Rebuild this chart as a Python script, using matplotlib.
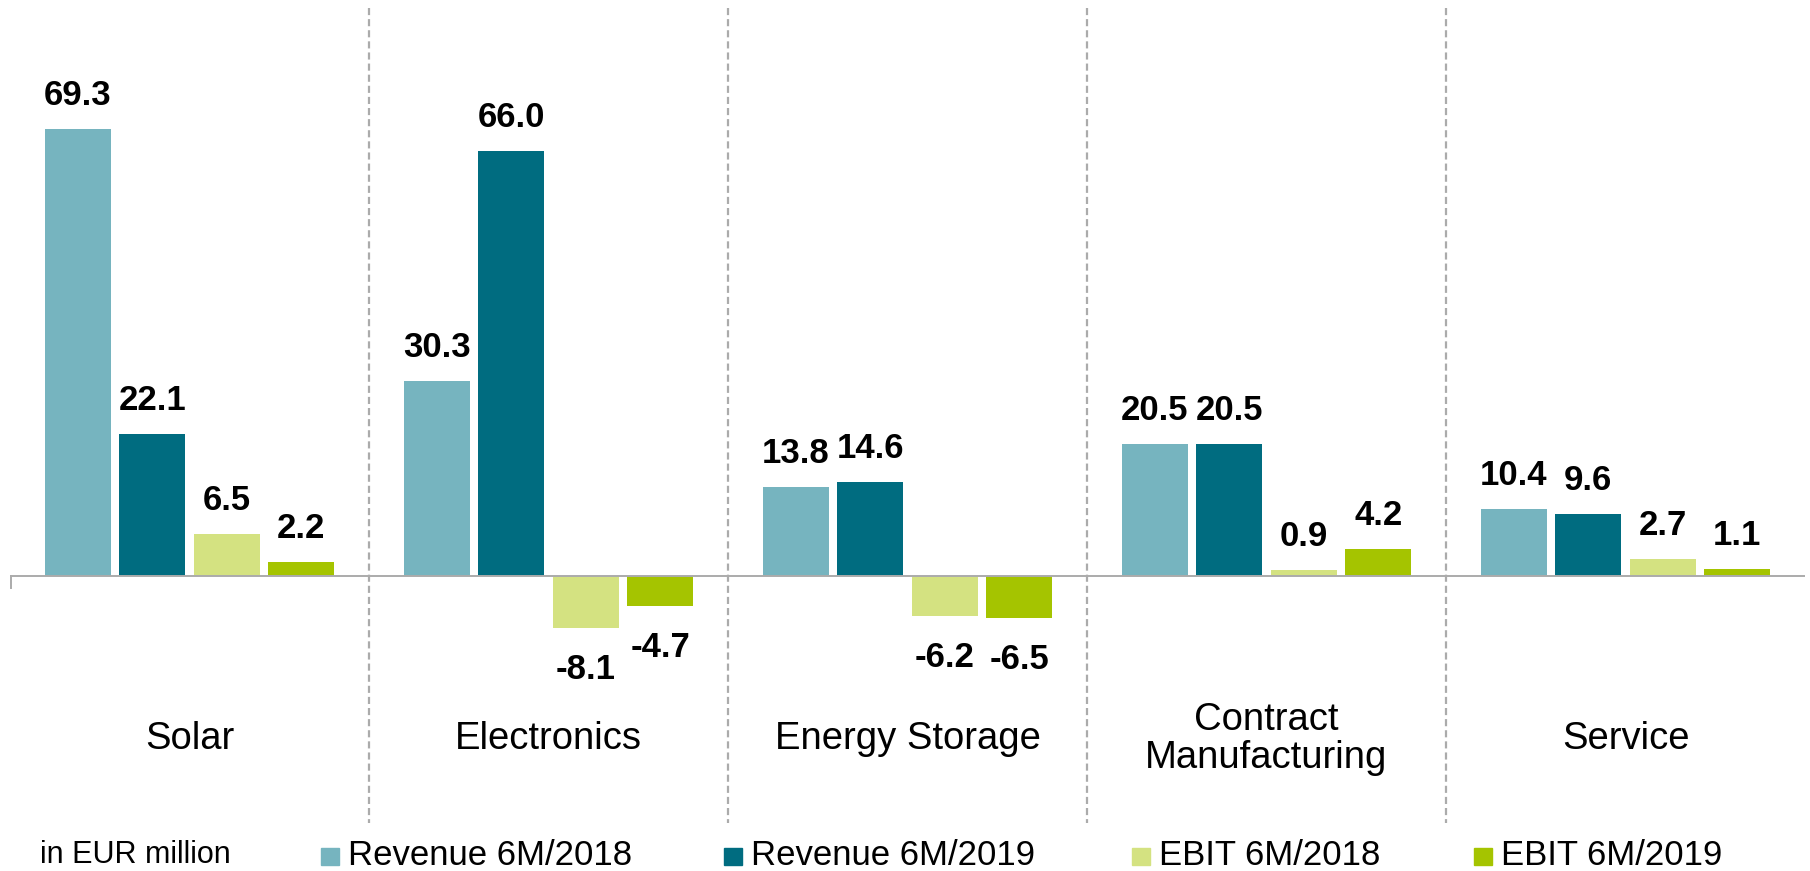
import matplotlib
matplotlib.use('Agg')
import matplotlib.pyplot as plt
from matplotlib.patches import Rectangle
import numpy as np

plt.rcParams['font.family'] = ['Liberation Sans', 'DejaVu Sans']

# data
categories = ['Solar', 'Electronics', 'Energy Storage', 'Contract\nManufacturing', 'Service']
series = ['Revenue 6M/2018', 'Revenue 6M/2019', 'EBIT 6M/2018', 'EBIT 6M/2019']
rev_2018 = [69.3, 30.3, 13.8, 20.5, 10.4]
rev_2019 = [22.1, 66.0, 14.6, 20.5, 9.6]
ebit_2018 = [6.5, -8.1, -6.2, 0.9, 2.7]
ebit_2019 = [2.2, -4.7, -6.5, 4.2, 1.1]
values = [rev_2018, rev_2019, ebit_2018, ebit_2019]
colors = ['#76B4BF', '#006C80', '#D4E281', '#A5C400']
unit_label = 'in EUR million'

W, H = 1810, 871
fig = plt.figure(figsize=(W / 100, H / 100), dpi=100)
ax = fig.add_axes([10 / W, 0, 1795 / W, 1])
ax.set_xlim(-0.5, len(categories) - 0.5)
ax.set_ylim(-45.8, 89.4)
ax.axis('off')

x = np.arange(len(categories))
pitch = 0.2075
width = 0.184
for k, (vals, col) in enumerate(zip(values, colors)):
    xs = x + (k - 1.5) * pitch
    ax.bar(xs, vals, width=width, color=col, zorder=2)
    for xi, v in zip(xs, vals):
        if v >= 0:
            ax.annotate(f'{v:.1f}', (xi, v), xytext=(0, 17), textcoords='offset pixels',
                        ha='center', va='bottom', fontsize=25, fontweight='bold')
        else:
            ax.annotate(f'{v:.1f}', (xi, v), xytext=(0, -25), textcoords='offset pixels',
                        ha='center', va='top', fontsize=25, fontweight='bold')

# zero line and separators
ax.plot([-0.5, len(categories) - 0.5], [0, 0], color='#ABABAB', lw=1.4, zorder=3)
ax.plot([-0.497, -0.497], [0, -1.9], color='#ABABAB', lw=1.4)
for b in np.arange(0.5, len(categories) - 0.5, 1):
    ax.plot([b, b], [88.2, -38.4], color='#ABABAB', lw=1.6, ls=(0, (3.2, 1.8)), zorder=1)

for xi, c in zip(x, categories):
    ax.text(xi, -25.3, c, ha='center', va='center', fontsize=27.5, linespacing=1.05)

# legend row
ly = 1 - 855 / H
fig.text(40 / W, ly, unit_label, ha='left', va='center', fontsize=22)
patch_x = [321, 724, 1132, 1474]
for px, name, col in zip(patch_x, series, colors):
    fig.add_artist(Rectangle((px / W, (H - 865) / H), 18 / W, 17 / H,
                             transform=fig.transFigure, color=col))
    fig.text((px + 27) / W, ly, name, ha='left', va='center', fontsize=25)

fig.savefig('out.png', dpi=100)
